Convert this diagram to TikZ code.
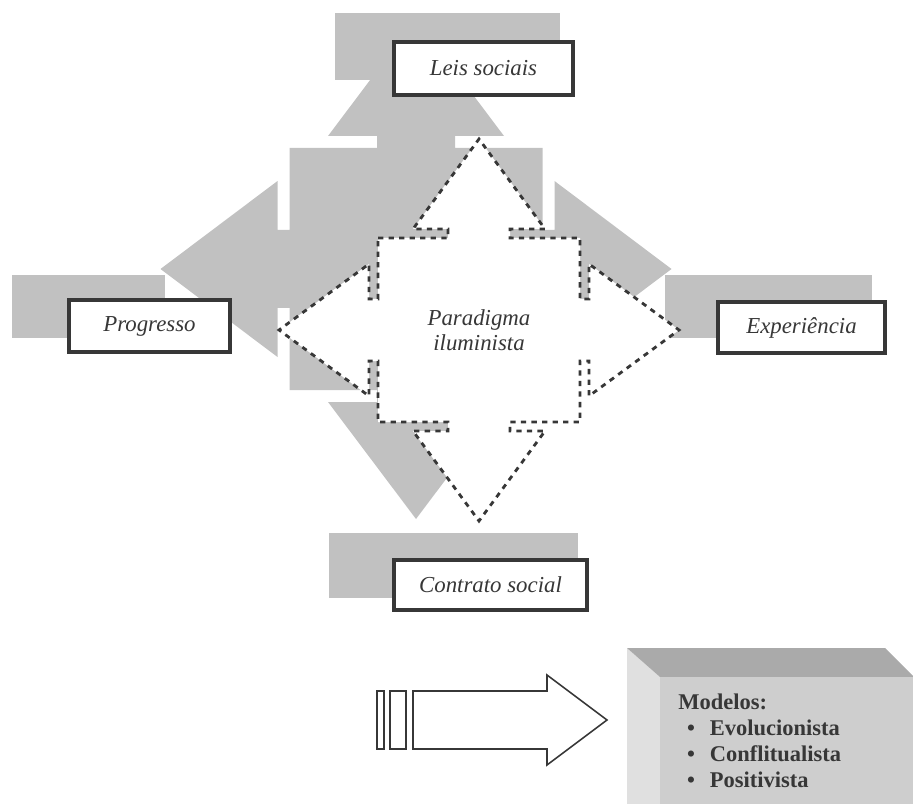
\documentclass[tikz,border=0pt]{standalone}
\usepackage{fontspec}
\setmainfont{Liberation Serif}
\usetikzlibrary{positioning}
\definecolor{shade}{RGB}{193,193,193}
\definecolor{ink}{RGB}{55,55,55}
\definecolor{boxfront}{RGB}{206,206,206}
\definecolor{boxtop}{RGB}{170,170,170}
\definecolor{boxside}{RGB}{224,224,224}
\tikzstyle{Label} = [
    draw = ink,
    line width = 2.2pt,
    fill = white,
    text = ink,
    inner sep = 0pt,
    font = \fontsize{13}{15}\selectfont\itshape
]
\tikzstyle{Dashed} = [
    draw = ink,
    fill = white,
    line width = 1.6pt,
    dash pattern = on 3pt off 3pt
]
\newcommand{\quadarrow}[6]{
    (-#1,-#2) -- (-#4,-#2) -- (-#4,-#2-#3) -- (-#5,-#2-#3) -- (0,-#2-#3-#6)
    -- (#5,-#2-#3) -- (#4,-#2-#3) -- (#4,-#2) -- (#1,-#2)
    -- (#1,-#4) -- (#1+#3,-#4) -- (#1+#3,-#5) -- (#1+#3+#6,0)
    -- (#1+#3,#5) -- (#1+#3,#4) -- (#1,#4) -- (#1,#2)
    -- (#4,#2) -- (#4,#2+#3) -- (#5,#2+#3) -- (0,#2+#3+#6)
    -- (-#5,#2+#3) -- (-#4,#2+#3) -- (-#4,#2) -- (-#1,#2)
    -- (-#1,#4) -- (-#1-#3,#4) -- (-#1-#3,#5) -- (-#1-#3-#6,0)
    -- (-#1-#3,-#5) -- (-#1-#3,-#4) -- (-#1,-#4) -- cycle
}

\begin{document}
\begin{tikzpicture}[
x = 0.02cm, y = -0.02cm,
shadow/.style = {fill = shade},
outline/.style = {draw = ink, line width = 0.9pt, fill = white, line join = miter}
]
\useasboundingbox (0,0) rectangle (913,804);
\clip (0,0) rectangle (913,804);

\fill[shadow] (335,13) rectangle (560,80);
\fill[shadow] (12,275) rectangle (165,338);
\fill[shadow] (665,275) rectangle (872,338);
\fill[shadow] (329,533) rectangle (578,598);
\fill[shadow, shift = {(416,269)}] \quadarrow{126.5}{121}{12}{39}{88}{117};

\node[Label, minimum width = 3.58cm, minimum height = 1.06cm] (leis) at (483.5,68.5) {Leis sociais};
\node[Label, minimum width = 3.22cm, minimum height = 1.04cm] (progresso) at (149.5,326) {Progresso};
\node[Label, minimum width = 3.34cm, minimum height = 1.02cm] (experiencia) at (801.5,327.5) {Experiência};
\node[Label, minimum width = 3.86cm, minimum height = 1.00cm] (contrato) at (490.5,585) {Contrato social};

\path[Dashed, shift = {(479,330)}] \quadarrow{101}{92}{9}{31}{66}{90};
\node[text = ink, align = center, font = \fontsize{13}{14}\selectfont\itshape] (paradigma) at (479,330) {Paradigma\\iluminista};

\draw[outline] (377,691) rectangle (384,749);
\draw[outline] (390,691) rectangle (406,749);
\draw[outline] (413,691) -- (547,691) -- (547,675) -- (607,720) -- (547,765) -- (547,749) -- (413,749) -- cycle;

\fill[boxside] (627,648) -- (660,677) -- (660,804) -- (627,804) -- cycle;
\fill[boxtop] (627,648) -- (885,648) -- (914,677) -- (660,677) -- cycle;
\fill[boxfront] (660,677) rectangle (913,804);
\node[anchor = north west, align = left, inner sep = 0pt, text = ink,
      font = \fontsize{12.8}{14.7}\selectfont\bfseries] (modelos) at (678,694) {
    Modelos:\\
    \makebox[18pt][l]{\hspace{5pt}\textbullet}Evolucionista\\
    \makebox[18pt][l]{\hspace{5pt}\textbullet}Conflitualista\\
    \makebox[18pt][l]{\hspace{5pt}\textbullet}Positivista
};

\end{tikzpicture}
\end{document}
